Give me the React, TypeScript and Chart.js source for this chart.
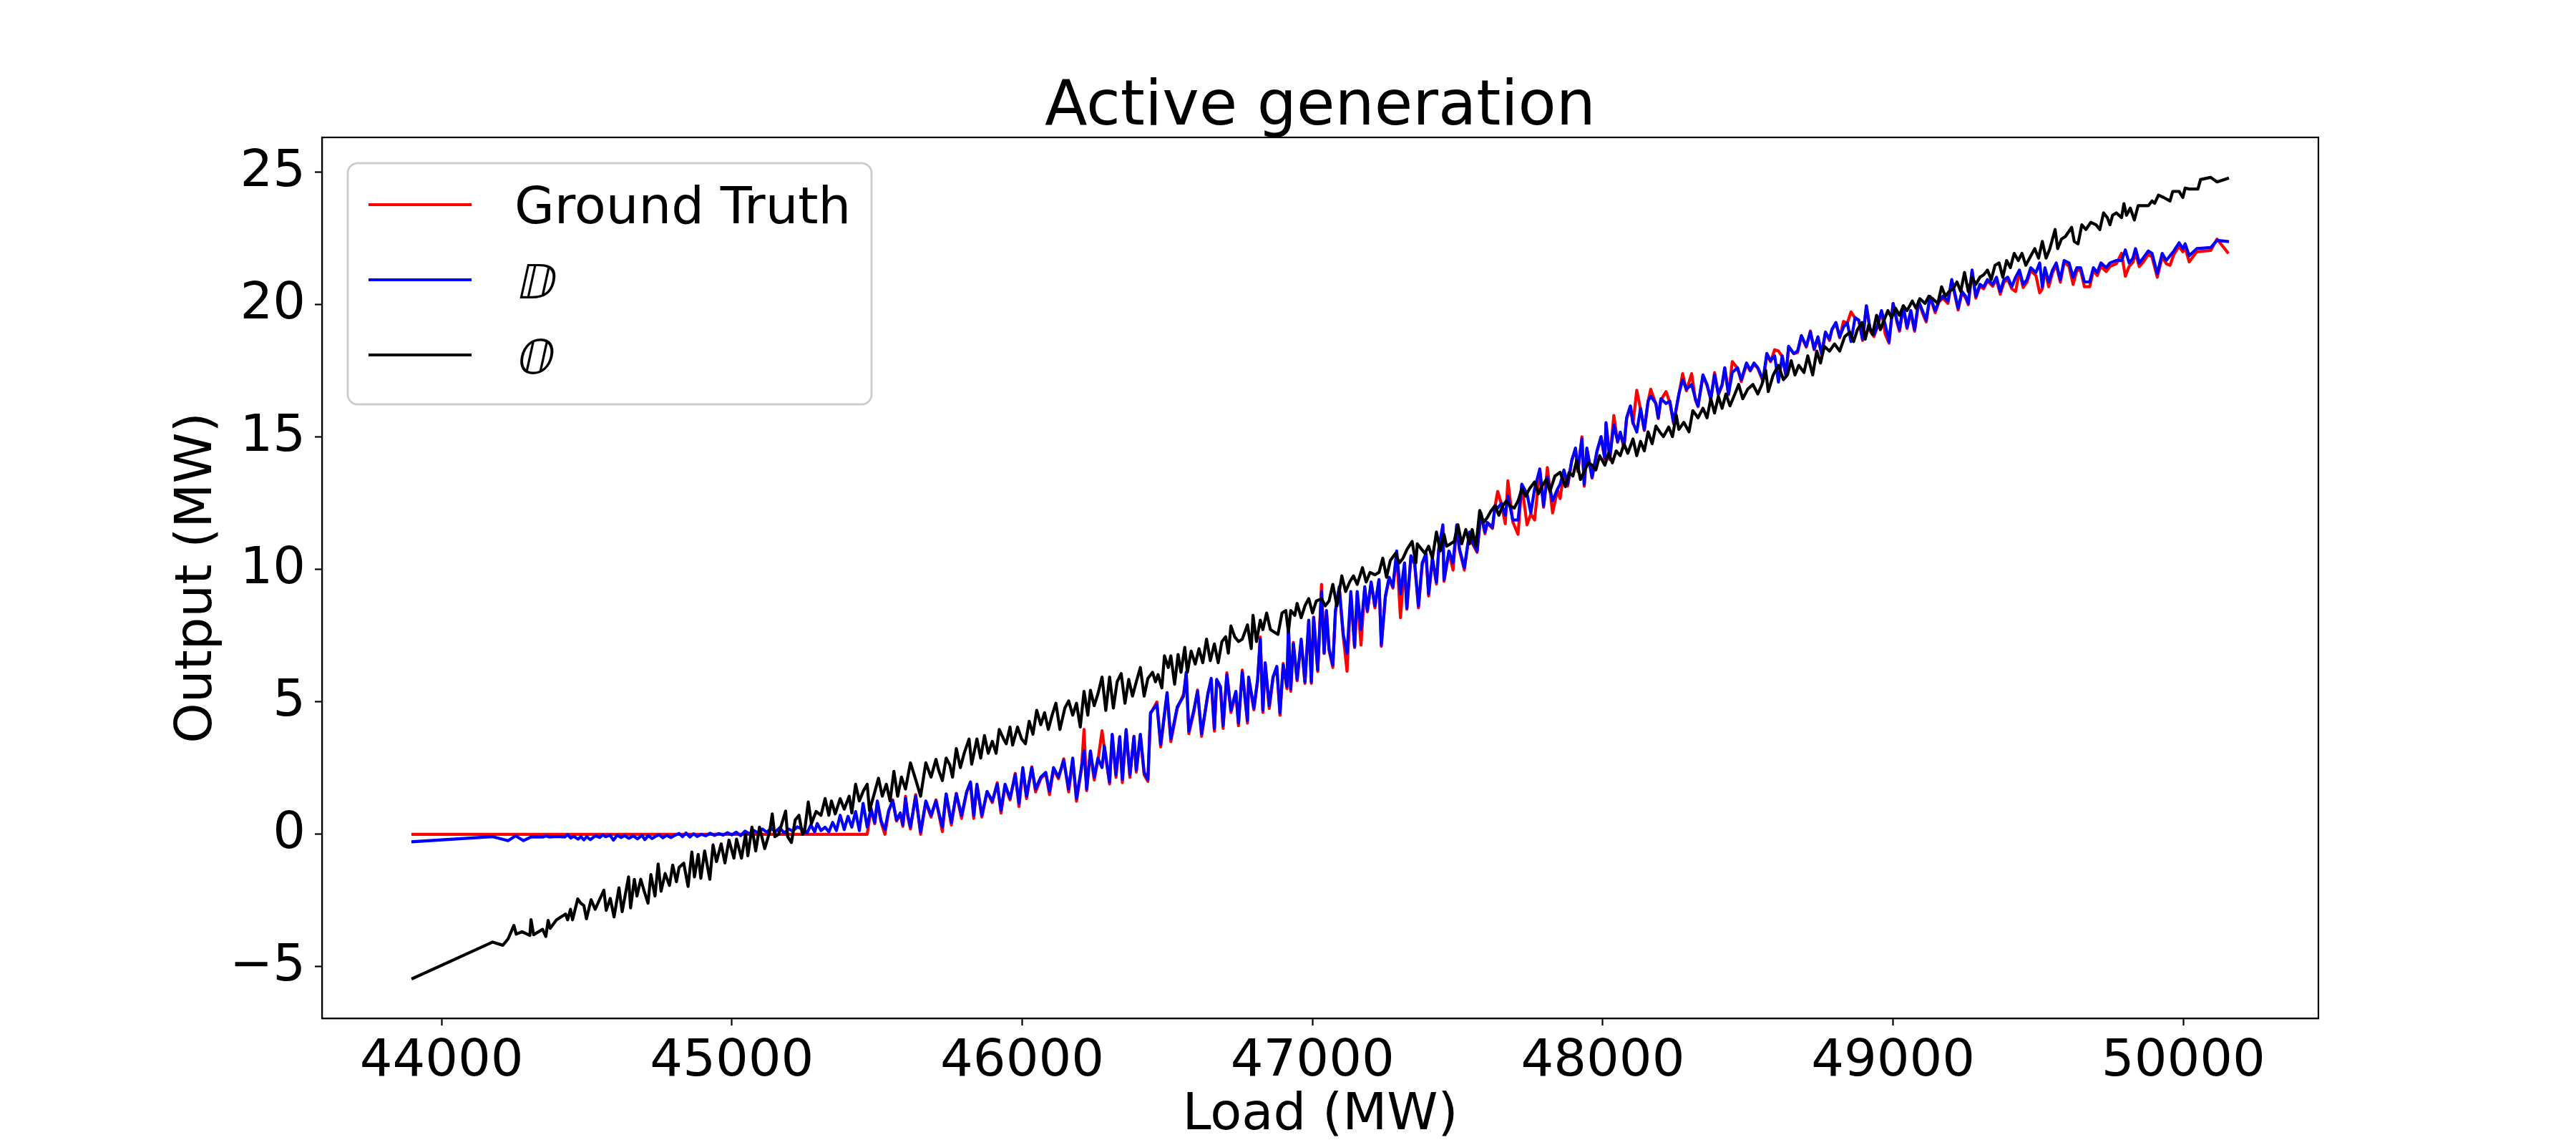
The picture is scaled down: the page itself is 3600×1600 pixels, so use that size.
import React, { useEffect, useRef } from 'react';
import { Chart, registerables } from 'chart.js';

Chart.register(...registerables);

// ---- Series O (black): load (MW) and output (MW)
const loadO = [
  43901,44176,44211,44229,44249,44257,44277,44304,44308,44317,
  44348,44359,44367,44374,44396,44427,44434,44444,44451,44469,
  44479,44490,44499,44515,44529,44559,44567,44581,44594,44611,
  44622,44644,44651,44664,44673,44686,44698,44711,44721,44735,
  44746,44756,44770,44785,44796,44809,44818,44834,44849,44862,
  44871,44884,44893,44906,44924,44935,44947,44963,44976,44990,
  45007,45016,45033,45047,45055,45069,45082,45095,45113,45130,
  45139,45148,45161,45185,45192,45205,45218,45231,45243,45250,
  45263,45274,45290,45307,45321,45334,45343,45356,45373,45387,
  45404,45413,45426,45439,45452,45466,45474,45488,45505,45518,
  45532,45545,45558,45571,45584,45598,45615,45633,45650,45668,
  45686,45703,45712,45725,45738,45751,45760,45773,45787,45800,
  45817,45826,45844,45857,45870,45883,45897,45910,45921,45936,
  45945,45958,45967,45984,45998,46011,46024,46037,46050,46064,
  46077,46090,46103,46116,46130,46147,46160,46174,46187,46200,
  46213,46226,46235,46248,46261,46275,46288,46301,46314,46327,
  46341,46354,46367,46380,46393,46407,46420,46433,46449,46459,
  46468,46481,46490,46503,46512,46525,46537,46547,46560,46569,
  46582,46596,46609,46622,46635,46648,46662,46675,46688,46701,
  46710,46719,46732,46745,46758,46776,46789,46795,46807,46820,
  46829,46842,46855,46868,46881,46895,46908,46917,46925,46939,
  46947,46961,46974,46987,47000,47013,47031,47044,47057,47070,
  47084,47101,47114,47128,47141,47154,47172,47185,47198,47215,
  47229,47242,47255,47268,47286,47299,47312,47325,47343,47356,
  47361,47374,47387,47400,47413,47427,47440,47453,47462,47475,
  47488,47501,47514,47528,47541,47550,47563,47576,47589,47602,
  47616,47629,47642,47655,47668,47680,47695,47708,47721,47734,
  47747,47765,47778,47791,47805,47818,47835,47853,47871,47884,
  47897,47910,47923,47936,47950,47963,47976,47989,48007,48020,
  48033,48046,48060,48073,48086,48104,48117,48130,48143,48156,
  48170,48183,48196,48209,48227,48240,48253,48262,48279,48297,
  48310,48328,48345,48359,48372,48385,48398,48411,48424,48438,
  48455,48468,48482,48499,48517,48534,48548,48561,48570,48587,
  48605,48622,48636,48649,48662,48675,48693,48706,48723,48737,
  48750,48763,48781,48798,48816,48833,48851,48864,48877,48893,
  48904,48916,48929,48943,48956,48969,48982,48995,49008,49022,
  49035,49048,49066,49079,49092,49110,49123,49136,49154,49167,
  49180,49193,49206,49220,49233,49246,49259,49272,49285,49299,
  49312,49325,49338,49351,49365,49378,49391,49404,49417,49431,
  49444,49457,49470,49488,49501,49514,49527,49540,49558,49567,
  49580,49593,49615,49624,49637,49650,49664,49681,49699,49712,
  49725,49738,49747,49756,49769,49787,49795,49804,49817,49831,
  49844,49861,49879,49892,49901,49914,49932,49954,49963,49985,
  49998,50006,50020,50050,50059,50094,50116,50152,
];
const outO = [
  -5.44,-4.07,-4.19,-3.95,-3.44,-3.77,-3.68,-3.82,-3.22,-3.79,
  -3.59,-3.86,-3.25,-3.55,-3.23,-3.01,-3.23,-2.83,-3.23,-2.44,
  -2.60,-2.69,-3.19,-2.47,-2.83,-2.11,-2.87,-2.42,-3.12,-2.02,
  -2.92,-1.61,-2.78,-1.70,-2.33,-1.70,-2.15,-2.60,-1.52,-2.33,
  -1.12,-2.15,-1.48,-1.93,-1.16,-1.79,-1.25,-1.09,-1.97,-0.67,
  -1.61,-0.76,-1.66,-0.63,-1.70,-0.40,-1.03,-0.36,-1.08,-0.22,
  -0.90,-0.18,-0.90,0.00,-0.81,0.27,-0.63,0.27,-0.54,0.09,
  0.77,-0.09,0.00,0.88,-0.09,-0.31,0.54,0.72,0.00,0.09,
  1.22,0.41,0.86,0.72,1.35,0.72,1.26,0.77,1.35,0.95,
  1.44,0.81,1.89,1.26,1.62,1.89,0.90,1.44,2.12,1.44,
  1.89,1.26,2.38,1.44,2.16,1.71,2.70,2.07,1.44,2.70,
  2.16,2.83,2.43,2.03,2.88,2.61,2.16,3.24,2.52,3.06,
  3.60,2.65,3.60,2.88,3.73,3.06,3.51,3.06,3.96,3.60,
  3.42,4.05,3.37,4.05,3.60,3.42,4.27,3.78,4.68,4.14,
  4.59,3.96,4.50,4.95,3.96,4.77,5.04,4.50,4.95,4.05,
  5.40,4.50,5.44,4.86,5.31,5.94,4.68,5.94,4.77,5.76,
  6.07,4.95,5.85,5.22,5.76,6.30,5.22,5.89,6.12,5.76,
  6.03,5.53,6.74,6.30,6.74,5.67,6.79,6.12,7.06,6.12,
  6.92,6.43,7.01,6.48,7.37,6.56,7.19,6.48,7.28,7.46,
  6.84,7.87,7.46,7.28,7.37,7.91,7.01,8.27,7.28,8.09,
  7.73,8.36,7.73,7.64,7.55,8.36,8.45,7.64,8.45,8.27,
  8.72,8.18,8.63,8.90,8.36,8.81,8.90,8.63,8.81,9.44,
  8.63,9.76,9.17,9.53,9.76,9.44,10.07,9.53,9.89,9.80,
  9.89,10.43,9.71,10.34,10.61,10.25,10.43,10.75,11.06,10.25,
  10.97,10.79,10.61,10.88,10.43,11.42,10.70,11.33,10.88,10.97,
  11.06,11.69,10.97,11.51,10.97,11.51,10.88,12.23,11.78,11.96,
  12.23,12.41,12.05,12.41,12.59,12.41,12.32,12.59,13.04,12.77,
  13.04,13.31,12.86,13.17,13.40,12.95,13.53,13.67,13.13,13.67,
  13.53,14.12,13.40,13.71,14.03,13.94,13.76,14.30,13.94,14.39,
  14.03,14.48,14.30,14.75,14.39,14.93,14.30,14.84,14.48,15.20,
  14.75,15.42,15.20,15.02,15.38,15.02,15.83,15.29,15.56,15.20,
  16.00,15.73,16.09,15.73,16.45,15.91,16.54,16.09,16.63,16.18,
  16.63,16.99,16.45,16.81,16.99,16.63,16.99,17.53,16.72,17.35,
  17.71,17.17,17.35,17.89,17.35,17.71,17.44,18.07,17.35,18.25,
  17.80,18.43,18.25,18.52,18.25,18.79,18.97,18.61,19.06,19.33,
  18.70,19.24,18.88,19.60,19.06,19.42,19.78,19.51,19.87,19.60,
  19.96,19.78,20.14,19.87,20.23,20.05,20.32,20.23,20.05,20.68,
  20.32,20.50,20.59,20.86,20.50,21.22,20.50,21.04,20.77,21.04,
  21.13,21.31,20.95,21.49,21.58,21.04,21.67,21.40,21.94,21.67,
  21.94,21.49,21.76,22.12,21.76,22.39,21.76,22.12,22.84,22.12,
  22.48,22.57,22.92,22.39,22.30,23.02,22.84,23.11,23.02,22.84,
  23.47,23.29,23.02,23.38,23.47,23.29,23.82,23.38,23.65,23.20,
  23.74,23.74,23.74,23.92,23.83,24.14,24.05,23.92,24.28,24.28,
  24.05,24.41,24.37,24.37,24.73,24.81,24.64,24.77,
];

// ---- Ground Truth (red) and series D (blue), sharing one load axis
const loadD = [
  43901,44176,44229,44255,44282,44308,44350,44360,44370,44400,
  44425,44434,44445,44455,44470,44480,44490,44500,44512,44530,
  44545,44555,44565,44580,44592,44605,44618,44630,44645,44660,
  44675,44690,44700,44712,44725,44738,44750,44762,44775,44790,
  44805,44818,44830,44842,44855,44868,44880,44895,44910,44925,
  44940,44955,44970,44985,45000,45015,45030,45045,45060,45075,
  45090,45105,45120,45135,45150,45165,45180,45195,45210,45225,
  45246,45259,45272,45285,45294,45307,45321,45334,45347,45360,
  45373,45387,45400,45413,45426,45439,45452,45466,45479,45492,
  45501,45514,45527,45540,45554,45567,45580,45589,45598,45606,
  45615,45633,45650,45668,45686,45703,45725,45738,45756,45773,
  45791,45809,45822,45833,45844,45861,45879,45897,45914,45927,
  45941,45958,45976,45989,46002,46015,46033,46046,46064,46081,
  46094,46108,46125,46143,46160,46174,46187,46204,46213,46222,
  46235,46248,46261,46275,46283,46301,46310,46323,46336,46345,
  46358,46371,46385,46393,46407,46420,46433,46442,
  46464,46477,46499,46512,46534,46556,46565,46574,46591,46604,
  46618,46640,46651,46662,46670,46683,46692,46705,46719,46736,
  46745,46758,46776,46780,46798,46811,46820,46829,46837,46851,
  46864,46877,46888,46899,46912,46917,46925,46934,46947,46961,
  46974,46987,46996,47004,47018,47031,47040,47048,47057,47070,
  47079,47092,47106,47119,47132,47145,47154,47167,47180,47189,
  47202,47215,47229,47237,47251,47264,47277,47290,47303,47317,
  47325,47339,47352,47365,47378,47391,47400,47413,47427,47435,
  47449,47453,47470,47484,47497,47506,47523,47541,47550,47567,
  47580,47594,47602,47620,47629,47638,47651,47664,47673,
  47690,47708,47721,47739,47752,47765,47783,47796,47809,47827,
  47844,47853,47866,47879,47893,47906,47914,47928,47936,47945,
  47963,47980,47994,48007,48011,48024,48038,48051,48060,48073,
  48082,48095,48104,48117,48130,48143,48156,48165,48183,48191,
  48200,48218,48231,48244,48262,48275,48288,48306,48319,48328,
  48345,48359,48372,48385,48398,48411,48420,48433,48446,48464,
  48477,48495,48508,48521,48534,48552,48565,48578,48592,48605,
  48618,48631,48640,48658,48671,48684,48701,48715,48728,48741,
  48754,48767,48781,48789,48803,48816,48829,48842,48855,48869,
  48882,48895,48908,
  48921,48934,48947,48960,48973,48986,49000,49013,49022,49035,
  49048,49061,49074,49088,49101,49114,49127,49145,49158,49171,
  49189,49202,49215,49224,49237,49250,49259,49272,49285,49299,
  49312,49325,49343,49356,49369,49382,49395,49409,49422,49435,
  49448,49461,49474,49492,49505,49514,49523,49536,49549,49562,
  49576,49589,49606,49620,49633,49646,49659,49677,49690,49703,
  49716,49734,49747,49769,49787,49800,49813,49826,49835,49848,
  49861,49879,49892,49910,49927,49941,49954,49967,49985,49998,
  50006,50020,50046,50094,50116,50152,
];
const outD = [
  -0.28,-0.09,-0.24,-0.06,-0.24,-0.10,-0.10,-0.06,-0.10,-0.08,
  -0.10,-0.01,-0.14,-0.08,-0.18,-0.09,-0.21,-0.09,-0.20,-0.06,
  -0.12,-0.02,-0.09,-0.03,-0.22,-0.03,-0.12,-0.05,-0.15,-0.06,
  -0.17,-0.04,-0.20,-0.05,-0.16,-0.07,-0.02,-0.13,-0.04,-0.12,
  -0.03,0.03,-0.09,0.05,-0.10,0.02,-0.08,0.00,-0.06,0.04,
  -0.04,0.03,-0.03,0.06,-0.02,0.08,-0.05,0.12,0.02,0.15,
  0.05,0.20,0.08,0.22,0.10,0.25,0.05,0.20,0.12,0.28,
  0.18,0.05,0.36,0.09,0.41,0.14,0.27,0.09,0.45,0.14,
  0.72,0.18,0.68,0.27,0.86,0.14,1.17,0.27,0.99,0.45,
  1.26,0.50,0.18,0.90,1.26,0.54,0.81,0.36,1.35,0.72,
  0.27,1.44,0.09,1.26,0.72,1.26,0.27,1.53,0.45,1.53,
  0.72,1.62,1.98,0.72,1.89,0.72,1.62,1.26,1.89,0.90,
  1.89,1.35,2.25,1.17,2.52,1.44,2.52,1.71,2.16,2.34,
  1.62,2.52,2.16,2.79,1.71,2.88,1.35,2.52,3.15,1.71,
  3.15,2.16,2.88,2.52,3.33,1.98,3.78,2.25,3.69,2.07,
  3.96,2.25,3.69,2.43,3.78,2.34,2.07,4.59,
  4.90,3.40,5.35,3.60,4.81,5.22,6.12,3.90,4.68,5.40,
  3.80,5.31,5.89,4.00,5.85,5.58,4.10,6.03,4.68,5.40,
  4.20,6.12,4.30,5.94,4.77,5.85,7.37,4.68,6.48,4.86,
  5.94,6.34,4.59,6.39,5.58,7.91,5.49,7.19,5.85,7.37,
  5.76,8.09,5.76,8.18,6.21,9.17,6.84,8.45,7.01,6.39,
  8.45,9.35,7.55,6.84,9.17,7.10,9.17,7.73,9.35,8.45,
  9.53,8.63,9.62,7.15,8.99,9.71,9.35,10.70,9.08,10.25,
  8.54,10.52,10.25,8.63,10.25,10.61,9.08,10.43,9.53,10.79,
  11.69,9.62,10.70,10.25,11.69,10.79,10.07,11.42,11.06,10.70,
  12.14,11.42,11.78,11.60,12.41,12.32,12.50,12.05,12.77,
  11.87,11.87,13.22,12.86,12.14,13.04,13.80,12.41,13.49,12.59,
  13.04,13.22,13.76,13.22,14.12,14.59,13.76,14.93,13.22,14.59,
  13.49,14.48,15.02,14.21,15.55,14.21,15.46,14.84,15.19,14.66,
  15.73,16.18,15.55,15.19,16.09,15.28,16.36,16.54,16.27,15.73,
  16.45,16.27,16.36,15.55,16.63,17.17,16.81,16.99,16.45,16.18,
  17.35,16.99,16.45,17.35,16.63,16.99,17.62,16.63,17.44,17.62,
  17.17,17.80,17.53,17.80,17.62,17.17,18.16,17.89,18.07,17.08,
  18.07,17.35,18.43,18.16,18.25,18.84,18.43,18.97,18.34,18.79,
  18.16,18.97,18.70,19.06,19.33,18.79,19.15,19.33,18.61,19.51,
  19.42,18.70,19.96,
  19.06,18.88,19.24,19.78,19.24,18.61,20.05,19.42,19.06,19.96,
  19.15,19.78,19.06,20.14,19.78,19.42,20.32,19.78,20.14,20.32,
  20.14,20.95,20.32,19.87,20.50,20.32,20.05,21.31,20.32,20.77,
  20.68,20.95,20.77,21.04,20.50,20.95,21.04,20.68,21.04,21.31,
  20.77,20.95,21.40,21.22,21.58,20.68,21.40,20.86,21.31,21.58,
  20.95,21.67,21.58,21.04,21.40,21.40,20.86,20.86,21.40,21.22,
  21.58,21.40,21.58,21.67,21.67,22.07,21.58,21.76,22.12,21.58,
  21.76,22.03,21.94,21.17,21.94,21.67,21.85,22.03,22.34,22.12,
  22.30,21.85,22.12,22.16,22.43,22.39,
];
const outGT = [
  0,0,0,0,0,0,0,0,0,0,
  0,0,0,0,0,0,0,0,0,0,
  0,0,0,0,0,0,0,0,0,0,
  0,0,0,0,0,0,0,0,0,0,
  0,0,0,0,0,0,0,0,0,0,
  0,0,0,0,0,0,0,0,0,0,
  0,0,0,0,0,0,0,0,0,0,
  0,0,0,0,0,0,0,0,0,0,
  0,0,0,0,0,0,0,0,0.95,0.40,
  1.20,0.45,0.00,0.85,1.30,0.50,0.75,0.30,1.44,0.65,
  0.20,1.50,0.00,1.20,0.65,1.30,0.10,1.50,0.35,1.55,
  0.60,1.60,1.90,0.60,1.85,0.65,1.60,1.20,1.95,0.80,
  1.85,1.30,2.30,1.05,2.45,1.35,2.55,1.60,2.10,2.30,
  1.50,2.45,2.10,2.85,1.60,2.80,1.25,2.45,3.96,1.65,
  3.10,2.05,2.80,3.91,3.25,1.90,3.75,2.15,3.65,1.95,
  3.90,2.15,3.70,2.35,3.75,2.25,2.00,4.55,
  5.00,3.30,5.30,3.50,4.75,5.30,6.05,3.80,4.60,5.45,
  3.70,5.35,5.80,3.90,5.80,5.50,4.00,6.10,4.60,5.35,
  4.10,6.20,4.20,5.90,4.70,5.80,7.45,4.60,6.40,4.75,
  5.90,6.30,4.50,6.45,5.50,7.85,5.40,7.25,5.80,7.30,
  5.70,8.05,5.70,8.20,6.15,9.44,6.83,8.40,6.95,6.30,
  8.40,9.30,7.46,6.16,9.10,7.05,9.10,7.15,9.30,8.40,
  9.50,8.55,9.60,7.10,8.95,9.65,9.30,10.60,8.18,10.20,
  8.50,10.45,10.20,8.55,10.20,10.55,9.00,10.40,9.45,10.75,
  11.60,9.55,10.65,9.98,11.65,10.75,9.98,11.40,11.00,10.65,
  12.10,11.35,11.75,11.55,12.40,12.95,12.45,11.73,13.35,
  11.80,11.33,13.20,11.69,12.10,11.87,13.75,12.35,13.85,12.14,
  13.00,12.68,13.70,13.15,14.10,14.55,13.70,15.01,13.15,14.55,
  13.45,14.45,15.00,14.15,15.50,14.15,15.82,14.80,15.15,14.60,
  15.70,16.15,15.50,16.77,16.05,15.25,16.35,16.81,16.25,15.70,
  16.40,16.72,16.30,15.50,16.60,17.40,16.75,17.40,16.40,16.15,
  17.30,16.95,16.40,17.44,16.60,16.95,17.60,16.60,17.85,17.60,
  17.10,17.75,17.50,17.75,17.60,17.10,18.10,17.85,18.30,18.25,
  18.05,17.30,18.40,18.15,18.20,18.80,18.40,19.01,18.30,18.75,
  18.10,18.95,18.65,19.05,19.30,18.75,19.37,19.30,19.73,19.50,
  19.40,18.65,19.95,
  19.00,18.80,19.20,19.75,18.88,18.55,20.05,19.35,19.00,19.90,
  19.10,19.70,19.00,20.10,19.70,19.35,20.30,19.70,20.10,20.25,
  20.05,20.90,20.25,19.80,20.45,20.25,20.00,21.25,20.25,20.70,
  20.60,20.90,20.70,20.95,20.40,20.85,20.95,20.60,20.50,21.25,
  20.65,20.85,21.30,21.10,20.45,20.60,21.30,20.68,21.20,21.50,
  20.85,21.60,21.45,20.77,21.30,21.30,20.68,20.68,21.30,21.10,
  21.45,21.25,21.45,21.55,21.94,21.08,21.45,21.60,21.95,21.44,
  21.60,21.90,21.80,21.04,21.80,21.55,21.49,21.90,22.20,22.00,
  22.15,21.62,22.00,22.05,22.48,21.98,
];

// ---- Axes & labels
const xTicks = [44000, 45000, 46000, 47000, 48000, 49000, 50000];
const yTicks = [-5, 0, 5, 10, 15, 20, 25];
const xRange = [43588, 50465];
const yRange = [-6.95, 26.32];
const seriesLabels = ['Ground Truth', '\u{1D53B}', '\u{1D546}'];
const seriesColors = ['#ff0000', '#0000ff', '#000000'];
const titleText = 'Active generation';
const xLabel = 'Load (MW)';
const yLabel = 'Output (MW)';

const FONT = '"DejaVu Sans", "Liberation Sans", sans-serif';

function pairs(xs: number[], ys: number[]) {
  const n = Math.min(xs.length, ys.length);
  const out: { x: number; y: number }[] = [];
  for (let i = 0; i < n; i++) out.push({ x: xs[i], y: ys[i] });
  return out;
}

const decor = {
  id: 'decor',
  afterDraw(chart: any) {
    const { ctx, chartArea: a } = chart;
    ctx.save();
    // spines on all four sides
    ctx.strokeStyle = '#000';
    ctx.lineWidth = 2.2;
    ctx.strokeRect(a.left, a.top, a.right - a.left, a.bottom - a.top);

    // title and axis labels
    ctx.fillStyle = '#000';
    ctx.textAlign = 'center';
    ctx.textBaseline = 'alphabetic';
    ctx.font = `87px ${FONT}`;
    ctx.fillText(titleText, (a.left + a.right) / 2, a.top - 18);
    ctx.font = `72px ${FONT}`;
    ctx.fillText(xLabel, (a.left + a.right) / 2, a.bottom + 155);
    ctx.save();
    ctx.translate(a.left - 155, (a.top + a.bottom) / 2);
    ctx.rotate(-Math.PI / 2);
    ctx.fillText(yLabel, 0, 0);
    ctx.restore();

    // legend, upper left inside axes
    const lx = a.left + 36;
    const ly = a.top + 36;
    const lw = 732;
    const lh = 337;
    ctx.beginPath();
    if (ctx.roundRect) ctx.roundRect(lx, ly, lw, lh, 14);
    else ctx.rect(lx, ly, lw, lh);
    ctx.fillStyle = 'rgba(255,255,255,0.8)';
    ctx.fill();
    ctx.strokeStyle = '#cccccc';
    ctx.lineWidth = 2.8;
    ctx.stroke();
    chart.data.datasets.forEach((ds: any, i: number) => {
      const cy = ly + 58 + i * 105;
      ctx.beginPath();
      ctx.moveTo(lx + 29, cy);
      ctx.lineTo(lx + 173, cy);
      ctx.strokeStyle = ds.borderColor;
      ctx.lineWidth = 4.2;
      ctx.lineCap = 'butt';
      ctx.stroke();
      ctx.fillStyle = '#000';
      ctx.textAlign = 'left';
      ctx.save();
      ctx.translate(lx + 233, cy + 26);
      if (i === 0) {
        ctx.font = `72px ${FONT}`;
      } else {
        // math-style oblique double-struck letter
        ctx.font = `66px ${FONT}`;
        ctx.transform(1, 0, -0.22, 1, 0, 0);
      }
      ctx.fillText(ds.label, 0, 0);
      ctx.restore();
    });
    ctx.restore();
  },
};

export default function App() {
  const ref = useRef<HTMLCanvasElement>(null);
  useEffect(() => {
    document.body.style.margin = '0';
    if (!ref.current) return;
    const tickFont = { family: FONT, size: 72 };
    const common = {
      borderWidth: 4.2,
      pointRadius: 0,
      pointHoverRadius: 0,
      fill: false,
      tension: 0,
      borderJoinStyle: 'round' as const,
      borderCapStyle: 'square' as const,
    };
    const chart = new Chart(ref.current, {
      type: 'line',
      data: {
        datasets: [
          { ...common, label: seriesLabels[0], data: pairs(loadD, outGT), borderColor: seriesColors[0], order: 3 },
          { ...common, label: seriesLabels[1], data: pairs(loadD, outD), borderColor: seriesColors[1], order: 2 },
          { ...common, label: seriesLabels[2], data: pairs(loadO, outO), borderColor: seriesColors[2], order: 1 },
        ],
      },
      options: {
        animation: false,
        responsive: false,
        devicePixelRatio: 1,
        events: [],
        layout: { padding: { left: 0, right: 360, top: 192, bottom: 0 } },
        plugins: {
          legend: { display: false },
          title: { display: false },
          tooltip: { enabled: false },
        },
        scales: {
          x: {
            type: 'linear',
            min: xRange[0],
            max: xRange[1],
            afterFit: (s: any) => { s.height = 177; },
            afterBuildTicks: (s: any) => { s.ticks = xTicks.map((v) => ({ value: v })); },
            grid: { drawOnChartArea: false, drawTicks: true, tickLength: 10, tickWidth: 2.2, tickColor: '#000' },
            border: { display: true, color: '#000', width: 2.2 },
            ticks: {
              font: tickFont,
              color: '#000',
              padding: 8,
              maxRotation: 0,
              autoSkip: false,
              callback: (v: any) => String(v),
            },
          },
          y: {
            type: 'linear',
            min: yRange[0],
            max: yRange[1],
            afterFit: (s: any) => { s.width = 450; },
            afterBuildTicks: (s: any) => { s.ticks = yTicks.map((v) => ({ value: v })); },
            grid: { drawOnChartArea: false, drawTicks: true, tickLength: 10, tickWidth: 2.2, tickColor: '#000' },
            border: { display: true, color: '#000', width: 2.2 },
            ticks: {
              font: tickFont,
              color: '#000',
              padding: 13,
              autoSkip: false,
              callback: (v: any) => (v < 0 ? '\u2212' + Math.abs(v) : String(v)),
            },
          },
        },
      },
      plugins: [decor],
    });
    return () => chart.destroy();
  }, []);
  return (
    <div style={{ width: 3600, height: 1600 }}>
      <canvas ref={ref} width={3600} height={1600} style={{ display: 'block', width: 3600, height: 1600 }} />
    </div>
  );
}
